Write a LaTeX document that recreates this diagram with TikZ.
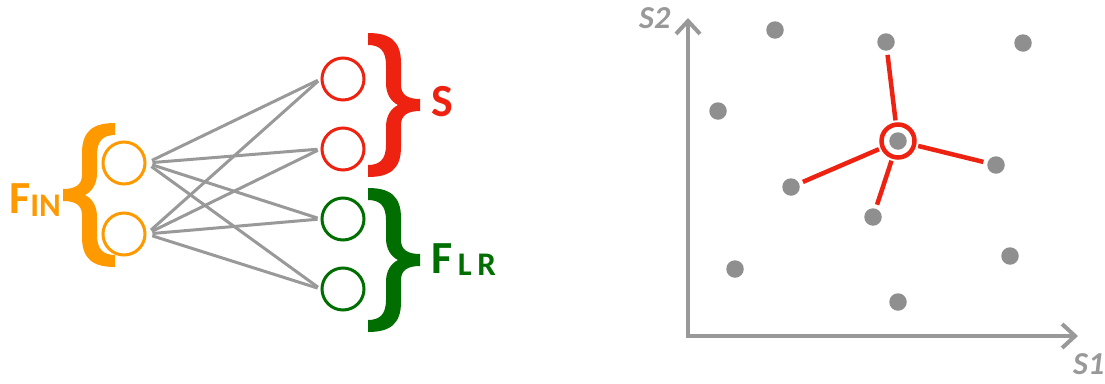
\documentclass[tikz,border=0pt]{standalone}
\usepackage{fontspec}
\setmainfont{Carlito}
\usetikzlibrary{arrows.meta}
\definecolor{orng}{HTML}{FF9900}
\definecolor{rd}{HTML}{EE2211}
\definecolor{grn}{HTML}{006E00}
\definecolor{lnc}{HTML}{999999}
\definecolor{dotc}{HTML}{8F8F8F}
\definecolor{axc}{HTML}{999999}
\tikzset{
  bracepic/.pic={
    \fill[pic actions] (0,0) .. controls (22,0) and (33,8) .. (33,30) -- (33,52)
      .. controls (33,62) and (40,66) .. (52,66) -- (52,78)
      .. controls (40,78) and (33,82) .. (33,92) -- (33,114)
      .. controls (33,136) and (22,144) .. (0,144) -- (0,132)
      .. controls (12,132) and (18,126) .. (18,112) -- (18,94)
      .. controls (18,84) and (22,76) .. (30,72)
      .. controls (22,68) and (18,60) .. (18,50) -- (18,32)
      .. controls (18,18) and (12,12) .. (0,12) -- cycle;
  },
  neuron/.style={circle, draw=#1, line width=3pt, minimum size=42pt, inner sep=0pt},
  conn/.style={draw=lnc, line width=3pt, shorten <=6pt, shorten >=3pt},
  pt/.style={circle, fill=dotc, minimum size=17.5pt, inner sep=0pt},
  nbr/.style={draw=rd, line width=4.5pt, shorten <=2pt, shorten >=4pt},
  lab/.style={font=\fontsize{46}{46}\selectfont\bfseries, inner sep=0pt, anchor=base west},
  axlab/.style={font=\fontsize{32}{32}\selectfont\bfseries\itshape, text=axc, inner sep=0pt, anchor=base west}
}
\begin{document}
\begin{tikzpicture}[x=1pt,y=-1pt]
\useasboundingbox (0,0) rectangle (1105,383);
% network
\node[neuron=orng] (i1) at (124,163) {};
\node[neuron=orng] (i2) at (124,234) {};
\node[neuron=rd] (o1) at (343,79) {};
\node[neuron=rd] (o2) at (343,149) {};
\node[neuron=grn] (o3) at (343,219) {};
\node[neuron=grn] (o4) at (343,289) {};
\foreach \a in {i1,i2}{
  \foreach \b in {o1,o2,o3,o4}{
    \draw[conn] (\a.east) -- (\b.west);
  }
}
% braces
\pic[fill=orng, xscale=-1] at (115,123) {bracepic};
\pic[fill=rd] at (368,33) {bracepic};
\pic[fill=grn] at (368,188) {bracepic};
% labels
\node[lab, text=orng] (fin) at (9,213) {F\raisebox{-3pt}{\fontsize{33}{33}\selectfont IN}};
\node[lab, text=rd] (slab) at (431,116) {S};
\node[lab, text=grn] (flr) at (431,273) {F\raisebox{-2pt}{\fontsize{33}{33}\selectfont\,L\,R}};
% axes
\coordinate (org) at (688,336);
\coordinate (ytip) at (688,18);
\coordinate (xtip) at (1078,336);
\draw[axc, line width=4pt, {Straight Barb[length=13pt,width=24pt]}-{Straight Barb[length=13pt,width=24pt]}] (ytip) -- (org) -- (xtip);
\node[axlab] (s2) at (639,28) {S2};
\node[axlab] (s1) at (1073,374) {S1};
% points
\node[pt] (c) at (898,141) {};
\node[pt] (d1) at (775,30) {};
\node[pt] (d2) at (886,42) {};
\node[pt] (d3) at (1023,43) {};
\node[pt] (d4) at (718,111) {};
\node[pt] (d5) at (996,165) {};
\node[pt] (d6) at (791,187) {};
\node[pt] (d7) at (873,217) {};
\node[pt] (d8) at (735,269) {};
\node[pt] (d9) at (1010,256) {};
\node[pt] (d10) at (898,302) {};
\node[circle, draw=rd, line width=4.5pt, minimum size=33pt, inner sep=0pt] (ring) at (c) {};
\foreach \n in {d2,d5,d6,d7}{
  \draw[nbr] (ring) -- (\n);
}
\end{tikzpicture}
\end{document}
